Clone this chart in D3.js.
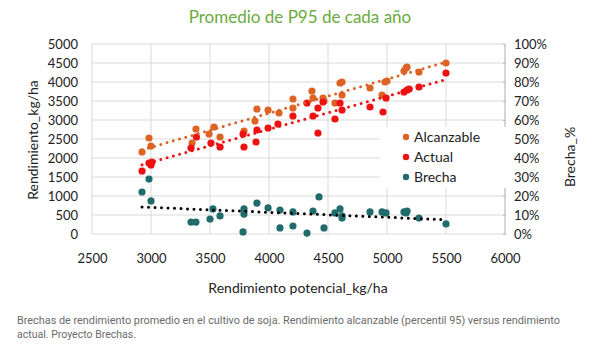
<!DOCTYPE html>
<html lang="en">
	<head>
		<meta charset="utf-8">
		<title>Promedio de P95 de cada año</title>
		<script type="text/javascript" src="https://cdn.jsdelivr.net/npm/d3@7"></script>
		<style type="text/css">
			body { margin: 0; background: #fff; }
			text { font-family: Lato, "Liberation Sans", sans-serif; }
		</style>
	</head>
	<body>
		<script type="text/javascript">

			//Data: [potencial kg/ha, value]
			var alcanzable = [
				[2924, 2158], [2983, 2526], [3000, 2316], [3348, 2395], [3381, 2763],
				[3492, 2632], [3534, 2816], [3585, 2553], [3788, 2711], [3881, 2974],
				[3898, 3289], [3992, 3263], [4085, 3184], [4203, 3553], [4203, 3316],
				[4364, 3763], [4373, 3579], [4458, 3579], [4466, 3500], [4559, 3447],
				[4602, 3974], [4619, 4000], [4619, 3658], [4856, 3842], [4958, 3658],
				[4983, 4000], [5000, 4026], [5144, 4289], [5161, 4368], [5170, 4395],
				[5271, 4263], [5500, 4500]
			];
			var actual = [
				[2924, 1658], [2983, 1868], [3000, 1816], [3008, 1895], [3339, 2263],
				[3385, 2553], [3508, 2395], [3585, 2289], [3780, 2632], [3788, 2289],
				[3890, 2421], [3898, 2737], [3992, 2789], [4076, 2895], [4203, 3105],
				[4322, 3447], [4373, 3105], [4415, 3316], [4415, 2658], [4458, 3474],
				[4559, 3026], [4602, 3447], [4619, 3263], [4856, 3342], [4966, 3210],
				[4992, 3579], [5144, 3737], [5170, 3789], [5187, 3816], [5271, 3868],
				[5500, 4237]
			];
			var brecha = [
				[2924, 0.221], [2983, 0.289], [3000, 0.174], [3339, 0.063], [3381, 0.063],
				[3500, 0.079], [3525, 0.132], [3585, 0.095], [3780, 0.011], [3788, 0.132],
				[3788, 0.105], [3898, 0.163], [3992, 0.137], [4093, 0.126], [4093, 0.032],
				[4203, 0.116], [4203, 0.042], [4322, 0.005], [4373, 0.121], [4424, 0.195],
				[4466, 0.032], [4559, 0.111], [4602, 0.132], [4619, 0.095], [4619, 0.084],
				[4856, 0.116], [4958, 0.116], [4992, 0.111], [5144, 0.116], [5161, 0.111],
				[5170, 0.121], [5271, 0.084], [5500, 0.053]
			];

			var xTicks = [2500, 3000, 3500, 4000, 4500, 5000, 5500, 6000];
			var yTicks = [0, 500, 1000, 1500, 2000, 2500, 3000, 3500, 4000, 4500, 5000];
			var pctTicks = [0, 0.1, 0.2, 0.3, 0.4, 0.5, 0.6, 0.7, 0.8, 0.9, 1];
			var seriesNames = ["Alcanzable", "Actual", "Brecha"];
			var colors = ["#dd6325", "#ee1111", "#206c6c"];
			var trendColors = ["#dd6325", "#ee1111", "#000000"];

			//Width and height
			var w = 600;
			var h = 351;

			var x = d3.scaleLinear().domain([2500, 6000]).range([92, 505]);
			var y = d3.scaleLinear().domain([0, 5000]).range([234, 44]);
			var y2 = d3.scaleLinear().domain([0, 1]).range([234, 44]);

			var svg = d3.select("body")
						.append("svg")
						.attr("width", w)
						.attr("height", h);

			//Title
			svg.append("text")
			   .attr("x", 300)
			   .attr("y", 23)
			   .attr("text-anchor", "middle")
			   .style("font-size", "17px")
			   .style("fill", "#6aaa3e")
			   .text("Promedio de P95 de cada año");

			//Gridlines
			svg.append("g")
			   .selectAll("line")
			   .data(yTicks)
			   .enter()
			   .append("line")
			   .attr("x1", 92).attr("x2", 505)
			   .attr("y1", d => y(d)).attr("y2", d => y(d))
			   .style("stroke", "#d9d9d9");

			svg.append("g")
			   .selectAll("line")
			   .data(xTicks)
			   .enter()
			   .append("line")
			   .attr("x1", d => x(d)).attr("x2", d => x(d))
			   .attr("y1", 44).attr("y2", 234)
			   .style("stroke", "#d9d9d9");

			//Right axis line and ticks
			svg.append("line")
			   .attr("x1", 505).attr("x2", 505)
			   .attr("y1", 44).attr("y2", 234)
			   .style("stroke", "#bfbfbf");

			var yRight = d3.axisRight(y2)
						   .tickValues(pctTicks)
						   .tickFormat(d3.format(".0%"))
						   .tickSize(3)
						   .tickPadding(8);
			var gR = svg.append("g")
						.attr("transform", "translate(503,0)")
						.call(yRight);
			gR.select(".domain").remove();
			gR.selectAll(".tick line").style("stroke", "#bfbfbf");

			//Left axis
			var yLeft = d3.axisLeft(y)
						  .tickValues(yTicks)
						  .tickFormat(d3.format("d"))
						  .tickSize(0)
						  .tickPadding(14);
			var gL = svg.append("g")
						.attr("transform", "translate(92,0)")
						.call(yLeft);
			gL.select(".domain").remove();

			//Bottom axis
			var xAxis = d3.axisBottom(x)
						  .tickValues(xTicks)
						  .tickFormat(d3.format("d"))
						  .tickSize(0)
						  .tickPadding(20);
			var gX = svg.append("g")
						.attr("transform", "translate(0,234)")
						.call(xAxis);
			gX.select(".domain").remove();

			svg.selectAll(".tick text")
			   .style("font-family", "Lato, sans-serif")
			   .style("font-size", "13px")
			   .style("fill", "#222");

			//Axis titles
			svg.append("text")
			   .attr("transform", "translate(38,140) rotate(-90)")
			   .attr("text-anchor", "middle")
			   .style("font-size", "14px")
			   .style("fill", "#222")
			   .text("Rendimiento_kg/ha");

			svg.append("text")
			   .attr("transform", "translate(575,157) rotate(-90)")
			   .attr("text-anchor", "middle")
			   .style("font-size", "14px")
			   .style("fill", "#222")
			   .text("Brecha_%");

			svg.append("text")
			   .attr("x", 298)
			   .attr("y", 293)
			   .attr("text-anchor", "middle")
			   .style("font-size", "14px")
			   .style("fill", "#222")
			   .text("Rendimiento potencial_kg/ha");

			//Least squares trend line
			function trend(data) {
				var mx = d3.mean(data, d => d[0]);
				var my = d3.mean(data, d => d[1]);
				var sxy = d3.sum(data, d => (d[0] - mx) * (d[1] - my));
				var sxx = d3.sum(data, d => (d[0] - mx) * (d[0] - mx));
				var b = sxy / sxx;
				var a = my - b * mx;
				var ext = d3.extent(data, d => d[0]);
				return ext.map(v => [v, a + b * v]);
			}

			var allSeries = [
				{ data: alcanzable, sy: y },
				{ data: actual, sy: y },
				{ data: brecha, sy: y2 }
			];

			allSeries.forEach(function(s, i) {
				svg.append("g")
				   .selectAll("circle")
				   .data(s.data)
				   .enter()
				   .append("circle")
				   .attr("cx", d => x(d[0]))
				   .attr("cy", d => s.sy(d[1]))
				   .attr("r", 3.6)
				   .style("fill", colors[i]);
			});

			allSeries.forEach(function(s, i) {
				var line = d3.line()
							 .x(d => x(d[0]))
							 .y(d => s.sy(d[1]));
				svg.append("path")
				   .attr("d", line(trend(s.data)))
				   .style("fill", "none")
				   .style("stroke", trendColors[i])
				   .style("stroke-width", 3)
				   .style("stroke-linecap", "round")
				   .style("stroke-dasharray", "0 6.5");
			});

			//Legend
			svg.append("rect")
			   .attr("x", 380).attr("y", 127)
			   .attr("width", 130).attr("height", 61)
			   .style("fill", "#fff");

			var legend = svg.append("g")
							.selectAll("g")
							.data(seriesNames)
							.enter()
							.append("g")
							.attr("transform", (d, i) => "translate(406," + (137 + i * 20) + ")");

			legend.append("circle")
				  .attr("r", 3.2)
				  .style("fill", (d, i) => colors[i]);

			legend.append("text")
				  .attr("x", 8)
				  .attr("y", 5)
				  .style("font-size", "14px")
				  .style("fill", "#222")
				  .text(d => d);

			//Caption
			var caption = [
				"Brechas de rendimiento promedio en el cultivo de soja. Rendimiento alcanzable (percentil 95) versus rendimiento",
				"actual. Proyecto Brechas."
			];
			svg.append("g")
			   .selectAll("text")
			   .data(caption)
			   .enter()
			   .append("text")
			   .attr("x", 17)
			   .attr("y", (d, i) => 324 + i * 14)
			   .attr("textLength", (d, i) => i == 0 ? 543 : 119)
			   .attr("lengthAdjust", "spacingAndGlyphs")
			   .style("font-family", "Roboto, sans-serif")
			   .style("font-size", "11px")
			   .style("fill", "#6b6b6b")
			   .text(d => d);

		</script>
	</body>
</html>
